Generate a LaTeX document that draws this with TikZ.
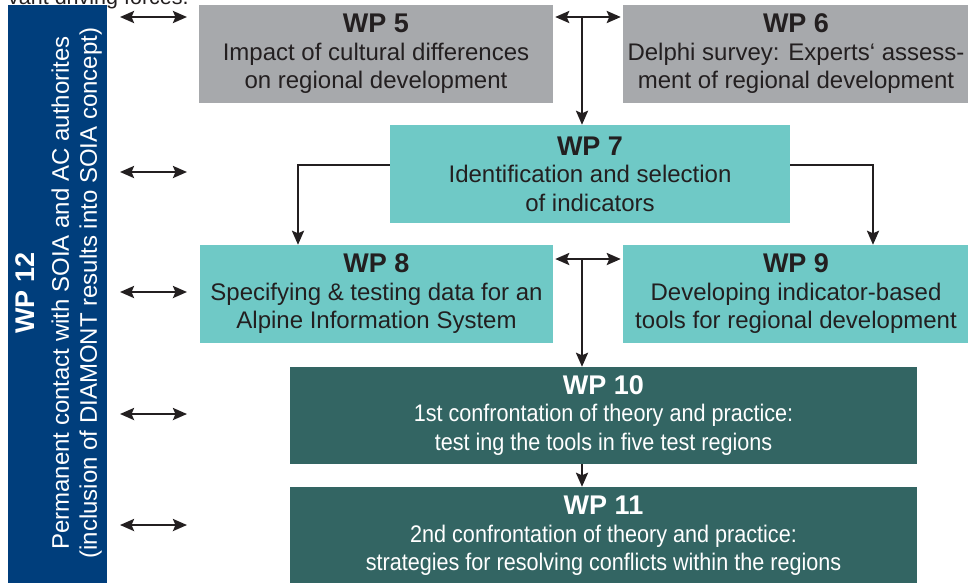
\documentclass[tikz,border=0pt]{standalone}
\usepackage{fontspec}
\setmainfont{Liberation Sans}
\newfontfamily\narrowfont[FakeStretch=0.9]{Liberation Sans}
\usetikzlibrary{arrows.meta,calc}
\definecolor{wpgray}{HTML}{A7A9AC}
\definecolor{wpteal}{HTML}{6FC9C6}
\definecolor{wpdark}{HTML}{336563}
\definecolor{wpnavy}{HTML}{003E7C}
\definecolor{ink}{HTML}{231F20}
\tikzset{
  wpbox/.style={rectangle, inner sep=0pt, align=center, text=ink,
    font=\fontsize{24}{28.5}\selectfont},
  graybox/.style={wpbox, fill=wpgray},
  tealbox/.style={wpbox, fill=wpteal},
  darkbox/.style={wpbox, fill=wpdark, text=white,
    font=\narrowfont\fontsize{24}{28.5}\selectfont},
  conn/.style={line width=2.5pt, draw=ink, -{Stealth[length=14pt,width=12pt,inset=2.5pt]}},
  dbl/.style={line width=2.5pt, draw=ink, {Stealth[length=14pt,width=12pt,inset=2.5pt]}-{Stealth[length=14pt,width=12pt,inset=2.5pt]}},
}
\newcommand{\wph}[1]{{\bfseries\fontsize{27}{28.5}\selectfont #1}}
\begin{document}
\begin{tikzpicture}[x=1pt,y=-1pt]
\useasboundingbox (0,0) rectangle (968,582);
\clip (0,0) rectangle (968,582);

% cut-off text from above
\node[anchor=base west, inner sep=0pt, text=ink, font=\fontsize{21.5}{24}\selectfont] (prev) at (8,4) {vant driving forces.};

% WP12 bar
\node[rectangle, fill=wpnavy, inner sep=0pt, minimum width=99pt, minimum height=600pt] (wp12) at (57.5,305) {};
\node[rotate=90, align=center, text=white, inner sep=0pt, font=\fontsize{24}{28}\selectfont] (wp12t) at (59,293)
  {\wph{WP 12}\\[6pt] Permanent contact with SOIA and AC authorites\\ (inclusion of DIAMONT results into SOIA concept)};

% boxes
\node[graybox, minimum width=354pt, minimum height=98pt] (wp5) at (376,54)
  {\wph{WP 5}\\[-1pt] Impact of cultural differences\\ on regional development};
\node[graybox, minimum width=346pt, minimum height=98pt] (wp6) at (796,54)
  {\wph{WP 6}\\[-1pt] Delphi survey: Experts‘ assess-\\ ment of regional development};
\node[tealbox, minimum width=400pt, minimum height=98pt] (wp7) at (590,174)
  {\wph{WP 7}\\[-1pt] Identification and selection\\ of indicators};
\node[tealbox, minimum width=353pt, minimum height=98pt] (wp8) at (376.5,294)
  {\wph{WP 8}\\[-1pt] Specifying \& testing data for an\\ Alpine Information System};
\node[tealbox, minimum width=346pt, minimum height=98pt] (wp9) at (796,294)
  {\wph{WP 9}\\[-1pt] Developing indicator-based\\ tools for regional development};
\node[darkbox, minimum width=627pt, minimum height=97pt] (wp10) at (603.5,415.5)
  {{\rmfamily\wph{WP 10}}\\[-1pt] 1st confrontation of theory and practice:\\ test ing the tools in five test regions};
\node[darkbox, minimum width=627pt, minimum height=98pt] (wp11) at (603.5,536)
  {{\rmfamily\wph{WP 11}}\\[-1pt] 2nd confrontation of theory and practice:\\ strategies for resolving conflicts within the regions};

% left contact arrows
\foreach \i/\y in {1/17,2/172,3/292,4/414,5/525}{
  \coordinate (la\i) at (120,\y);
  \coordinate (lb\i) at (187,\y);
  \draw[dbl] (la\i) -- (lb\i);
}

% WP5 <-> WP6 and down to WP7
\coordinate (t1) at ($(wp5.east |- 0,17)+(2,0)$);
\coordinate (t2) at ($(wp6.west |- 0,17)+(-2,0)$);
\coordinate (tm) at (582,17);
\draw[dbl] (t1) -- (t2);
\draw[conn] (tm) -- (tm |- wp7.north);

% WP7 to WP8 and WP9
\coordinate (w7l) at (wp7.west |- 0,165);
\coordinate (w7r) at (wp7.east |- 0,165);
\coordinate (c8) at (298,0);
\coordinate (c9) at (873,0);
\draw[conn] (w7l) -| (c8 |- wp8.north);
\draw[conn] (w7r) -| (c9 |- wp9.north);

% WP8 <-> WP9 and down to WP10
\coordinate (m1) at ($(wp8.east |- 0,259)+(2,0)$);
\coordinate (m2) at ($(wp9.west |- 0,259)+(-2,0)$);
\coordinate (mm) at (582,259);
\draw[dbl] (m1) -- (m2);
\draw[conn] (mm) -- (mm |- wp10.north);

% WP10 to WP11
\draw[conn] (mm |- wp10.south) -- (mm |- wp11.north);
\end{tikzpicture}
\end{document}
